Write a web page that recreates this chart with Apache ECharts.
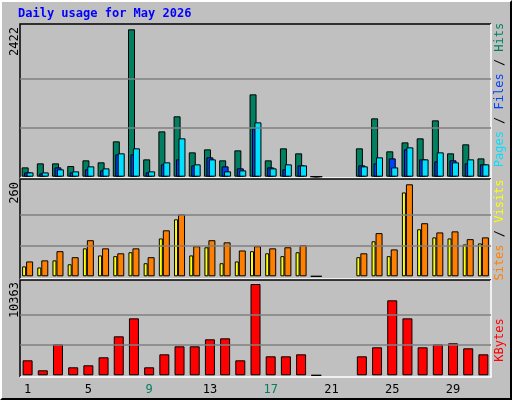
<!DOCTYPE html>
<html><head><meta charset="utf-8">
<script src="https://cdn.jsdelivr.net/npm/echarts@6/dist/echarts.min.js"></script>
<style>html,body{margin:0;padding:0;background:#c0c0c0}
#c{position:absolute;left:0;top:0;width:512px;height:400px}
#f{position:absolute;left:0;top:0;width:508px;height:396px;border-top:2px solid #fff;border-left:2px solid #fff;border-right:2px solid #000;border-bottom:2px solid #000;box-sizing:content-box}</style>
</head><body><div id="f"></div><div id="c"></div>
<script>
const days = ['1','2','3','4','5','6','7','8','9','10','11','12','13','14','15','16','17','18','19','20','21','22','23','24','25','26','27','28','29','30','31'];
const weekend = ['2','3','9','10','16','17','23','24','30','31'];
const hits  = [153,219,219,175,269,236,581,2422,285,745,992,400,449,269,433,1353,269,466,384,0,null,null,466,959,417,564,630,926,384,532,301];
const files = [71,55,153,71,121,104,367,367,71,203,285,186,318,170,137,795,153,121,186,0,null,null,186,219,301,449,285,252,269,219,203];
const pages = [71,71,121,88,170,137,384,466,88,236,630,203,285,88,104,893,137,203,186,0,null,null,170,318,153,482,285,400,236,285,203];
const visits = [28,25,45,34,79,59,57,68,37,107,161,59,82,37,42,71,65,57,68,0,null,null,54,99,57,237,133,110,107,90,93];
const sites  = [42,45,71,54,102,79,65,79,54,130,175,85,102,96,73,85,79,82,88,0,null,null,65,122,76,260,150,124,127,105,110];
const kbytes = [1702,567,3517,907,1134,2042,4424,6465,907,2382,3290,3290,4084,4197,1702,10363,2155,2155,2382,0,null,null,2155,3177,8510,6465,3177,3517,3630,3063,2382];
const maxLabels = ['2422','260','10363'];
const maxVals = [2422,260,10363];

const chart = echarts.init(document.getElementById('c'));
const F = 'DejaVu Sans Mono, monospace';
const grids = [
  {left:20,right:21,top:29.3,height:147.4},
  {left:20,right:21,top:184.3,height:92},
  {left:20,right:21,top:284,height:91.3}
];
const frames = [[20,24,471,154],[20,179,471,100],[20,280,471,97]];
function gl(i){return {silent:true,symbol:'none',label:{show:false},lineStyle:{color:'#808080',type:'solid',width:1.5},data:[{yAxis:maxVals[i]/3},{yAxis:maxVals[i]*2/3}]};}
const bs = {borderColor:'#000',borderWidth:1};
function zero(c){return function(p){return p.value===0?'#000':c;};}
const graphic = [];
frames.forEach(f=>{
  graphic.push({type:'rect',shape:{x:f[0],y:f[1],width:f[2],height:f[3]},style:{fill:'#c0c0c0',stroke:null},z:-10,silent:true});
  graphic.push({type:'polyline',shape:{points:[[f[0],f[1]+f[3]],[f[0],f[1]],[f[0]+f[2],f[1]]]},style:{stroke:'#000',lineWidth:1.5,fill:null},z:-5});
  graphic.push({type:'polyline',shape:{points:[[f[0],f[1]+f[3]],[f[0]+f[2],f[1]+f[3]],[f[0]+f[2],f[1]]]},style:{stroke:'#fff',lineWidth:1.5,fill:null},z:-5});
});
[27,182,282].forEach((y,i)=>graphic.push({type:'text',x:15,y:y,rotation:Math.PI/2,style:{text:maxLabels[i],font:'12px '+F,fill:'#000',align:'right',verticalAlign:'middle'}}));
graphic.push({type:'text',left:18,top:8,style:{text:'Daily usage for May 2026',font:'bold 12px '+F,fill:'#0000ff'}});
function side(y,rich,text){graphic.push({type:'text',x:500,y:y,rotation:Math.PI/2,style:{text:text,rich:rich,font:'12px '+F,align:'center',verticalAlign:'middle'}});}
side(95,{p:{fill:'#00e0ff',font:'12px '+F},f:{fill:'#0040ff',font:'12px '+F},h:{fill:'#008060',font:'12px '+F},s:{fill:'#000',font:'12px '+F}},'{p|Pages}{s| / }{f|Files}{s| / }{h|Hits}');
side(230,{a:{fill:'#ff8000',font:'12px '+F},v:{fill:'#ffff00',font:'12px '+F},s:{fill:'#000',font:'12px '+F}},'{a|Sites}{s| / }{v|Visits}');
side(340,{k:{fill:'#ff0000',font:'12px '+F}},'{k|KBytes}');

const xAxes = [0,1,2].map(i=>({type:'category',gridIndex:i,data:days,axisLine:{show:false},axisTick:{show:false},
  axisLabel:i<2?{show:false}:{margin:9,fontFamily:F,fontSize:12,formatter:v=>weekend.includes(v)?'{w|'+v+'}':'{n|'+v+'}',rich:{w:{color:'#008060',fontFamily:F,fontSize:12},n:{color:'#000',fontFamily:F,fontSize:12}}}}));
const yAxes = [0,1,2].map(i=>({type:'value',gridIndex:i,min:0,max:maxVals[i],splitLine:{show:false},axisLabel:{show:false},axisLine:{show:false},axisTick:{show:false}}));
chart.setOption({
  animation:false,
  grid:grids, xAxis:xAxes, yAxis:yAxes, graphic:graphic,
  series:[
    {type:'bar',name:'Hits',xAxisIndex:0,yAxisIndex:0,data:hits,barWidth:7,barGap:'-65%',itemStyle:Object.assign({color:zero('#008060')},bs),markLine:gl(0)},
    {type:'bar',name:'Files',xAxisIndex:0,yAxisIndex:0,data:files,barWidth:7,barGap:'-65%',itemStyle:Object.assign({color:zero('#0040ff')},bs)},
    {type:'bar',name:'Pages',xAxisIndex:0,yAxisIndex:0,data:pages,barWidth:7,barGap:'-65%',itemStyle:Object.assign({color:zero('#00e0ff')},bs)},
    {type:'bar',name:'Visits',xAxisIndex:1,yAxisIndex:1,data:visits,barWidth:4,barGap:'0%',itemStyle:Object.assign({color:zero('#ffff00')},bs),markLine:gl(1)},
    {type:'bar',name:'Sites',xAxisIndex:1,yAxisIndex:1,data:sites,barWidth:7,barGap:'0%',itemStyle:Object.assign({color:zero('#ff8000')},bs)},
    {type:'bar',name:'KBytes',xAxisIndex:2,yAxisIndex:2,data:kbytes,barWidth:10,itemStyle:Object.assign({color:zero('#ff0000')},bs),markLine:gl(2)}
  ]
});
</script></body></html>
